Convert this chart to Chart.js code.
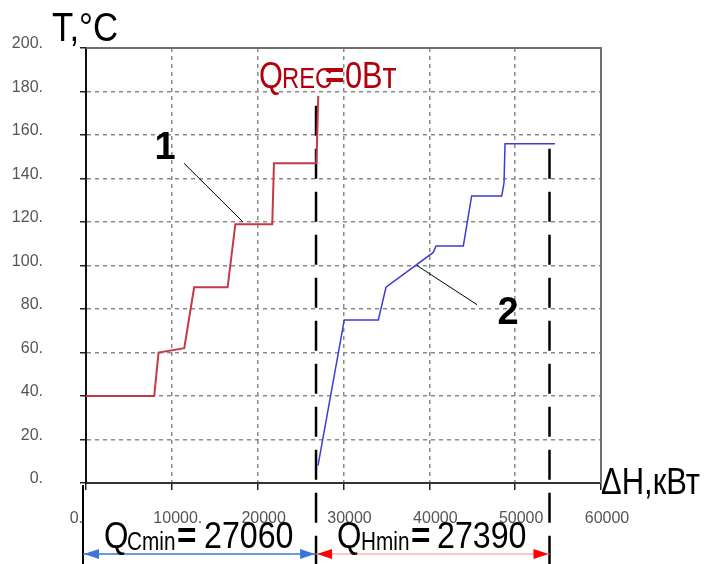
<!DOCTYPE html>
<html>

<head>
    <title>Composite curves</title>
    <style>
        body {
            margin: 0px;
            background-color: #ffffff;
        }
    </style>
    <!-- Chart.js from CDN -->
    <script src="https://cdn.jsdelivr.net/npm/chart.js"></script>
</head>

<body>
    <canvas id="myChart" width="706" height="564"></canvas>
<script>
// cold composite curve (1), red
const curve1X = [0, 7950, 8450, 11450, 12600, 16500, 17400, 21700, 21900, 26850, 27060];
const curve1Y = [40, 40, 60, 62, 90, 90, 119, 119, 147, 147, 178];

// hot composite curve (2), blue
const curve2X = [27030, 30090, 34060, 34950, 40460, 40780, 43960, 44930, 48430, 48700, 48820, 54640];
const curve2Y = [8, 75, 75, 90, 106, 109, 109, 132, 132, 138, 156, 156];

// vertical dashed boundaries
const boundX = [26800, 54000];
const boundTopY = [178, 156];
const boundBottomY = -38;

// leader lines to curve numbers
const leader1X = [11420, 18290];
const leader1Y = [147, 120];
const leader2X = [38560, 45550];
const leader2Y = [100, 82];

const curveLabels = ['1', '2'];
const curveLabelX = [9200, 49170];
const curveLabelY = [154, 78];

// axis ticks ("0." is padded so it sits left of the origin like the original)
const xTickLabels = ['0.\u00a0\u00a0\u00a0\u00a0\u00a0\u00a0\u00a0', '10000.', '20000', '30000', '40000', '50000', '60000'];
const yTickLabels = ['0.', '20.', '40.', '60.', '80.', '100.', '120.', '140.', '160.', '180.', '200.'];

const tickFont = { family: "'Liberation Sans Narrow', 'Liberation Sans', Arial, sans-serif", size: 16 };

function pts(xs, ys) {
    return xs.map((x, i) => ({ x: x, y: ys[i] }));
}

// text in a squeezed sans font
function squeezed(ctx, str, x, y, size, color, weight, sx) {
    ctx.save();
    ctx.font = (weight || 'normal') + ' ' + size + 'px "Liberation Sans", Arial, sans-serif';
    ctx.fillStyle = color;
    ctx.textBaseline = 'alphabetic';
    ctx.textAlign = 'left';
    ctx.translate(x, y);
    ctx.scale(sx || 0.83, 1);
    ctx.fillText(str, 0, 0);
    ctx.restore();
}

function arrowHead(ctx, tipX, y, dir, color) {
    ctx.fillStyle = color;
    ctx.beginPath();
    ctx.moveTo(tipX, y);
    ctx.lineTo(tipX - dir * 15, y - 5);
    ctx.lineTo(tipX - dir * 15, y + 5);
    ctx.closePath();
    ctx.fill();
}

const overlay = {
    id: 'overlay',
    afterDraw(chart) {
        const ctx = chart.ctx;
        const a = chart.chartArea;
        const xs = chart.scales.x;
        const ys = chart.scales.y;
        ctx.save();

        // top and right frame
        ctx.strokeStyle = '#6e6e6e';
        ctx.lineWidth = 2;
        ctx.beginPath();
        ctx.moveTo(a.left, a.top);
        ctx.lineTo(a.right, a.top);
        ctx.lineTo(a.right, a.bottom);
        ctx.stroke();

        // curve numbers
        ctx.fillStyle = '#000';
        ctx.textAlign = 'center';
        ctx.textBaseline = 'middle';
        ctx.font = 'bold 38px "Liberation Sans", Arial, sans-serif';
        curveLabels.forEach((t, i) => {
            ctx.fillText(t, xs.getPixelForValue(curveLabelX[i]), ys.getPixelForValue(curveLabelY[i]));
        });

        // axis titles
        squeezed(ctx, 'T,°C', 52, 41, 40, '#000', 'normal', 0.87);
        squeezed(ctx, 'ΔH,кВт', 601, 494, 36, '#000', 'normal', 0.86);

        // Q_REC = 0 Bт
        const red = '#b3000c';
        squeezed(ctx, 'Q', 259, 88, 37, red, 'normal', 0.83);
        squeezed(ctx, 'REC', 282, 88, 29, red, 'normal', 0.82);
        squeezed(ctx, '=', 325, 88, 37, red, 'bold', 0.9);
        squeezed(ctx, '0Bт', 345, 88, 37, red, 'normal', 0.83);

        // dimension line extension at the origin
        const x0 = a.left - 3;
        ctx.strokeStyle = '#000';
        ctx.lineWidth = 2;
        ctx.beginPath();
        ctx.moveTo(x0, a.bottom + 2);
        ctx.lineTo(x0, chart.height);
        ctx.stroke();

        // dimension arrows
        const ay = 554;
        const xb1 = xs.getPixelForValue(boundX[0]);
        const xb2 = xs.getPixelForValue(boundX[1]);
        ctx.strokeStyle = '#3a78d6';
        ctx.lineWidth = 1.5;
        ctx.beginPath();
        ctx.moveTo(x0, ay);
        ctx.lineTo(xb1, ay);
        ctx.stroke();
        arrowHead(ctx, x0 + 1, ay, -1, '#3a78d6');
        arrowHead(ctx, xb1 - 1, ay, 1, '#3a78d6');
        ctx.strokeStyle = '#ff8a8a';
        ctx.lineWidth = 1;
        ctx.beginPath();
        ctx.moveTo(xb1, ay);
        ctx.lineTo(xb2, ay);
        ctx.stroke();
        arrowHead(ctx, xb1 + 1, ay, -1, '#ff0000');
        arrowHead(ctx, xb2 - 1, ay, 1, '#ff0000');

        // QCmin and QHmin
        squeezed(ctx, 'Q', 104, 548, 37, '#000', 'normal', 0.85);
        squeezed(ctx, 'Cmin', 127, 550, 25, '#000', 'normal', 0.83);
        squeezed(ctx, '=', 177, 548, 37, '#000', 'bold', 0.9);
        squeezed(ctx, '27060', 204, 548, 37, '#000', 'normal', 0.87);

        squeezed(ctx, 'Q', 337, 548, 37, '#000', 'normal', 0.85);
        squeezed(ctx, 'Hmin', 361, 550, 25, '#000', 'normal', 0.83);
        squeezed(ctx, '=', 411, 548, 37, '#000', 'bold', 0.9);
        squeezed(ctx, '27390', 437, 548, 37, '#000', 'normal', 0.87);

        ctx.restore();
    }
};

const lineDefaults = { showLine: true, pointRadius: 0, tension: 0, fill: false };

const myChart = new Chart(document.getElementById('myChart').getContext('2d'), {
    type: 'scatter',
    data: {
        datasets: [
            Object.assign({ label: '1', data: pts(curve1X, curve1Y), borderColor: '#c23b45', borderWidth: 2 }, lineDefaults),
            Object.assign({ label: '2', data: pts(curve2X, curve2Y), borderColor: '#3d3dd6', borderWidth: 1.5 }, lineDefaults),
            Object.assign({ label: 'b1', data: [{ x: boundX[0], y: boundBottomY }, { x: boundX[0], y: boundTopY[0] }], borderColor: '#000', borderWidth: 2.5, borderDash: [30, 13], clip: false }, lineDefaults),
            Object.assign({ label: 'b2', data: [{ x: boundX[1], y: boundBottomY }, { x: boundX[1], y: boundTopY[1] }], borderColor: '#000', borderWidth: 2.5, borderDash: [30, 13], clip: false }, lineDefaults),
            Object.assign({ label: 'l1', data: pts(leader1X, leader1Y), borderColor: '#000', borderWidth: 1 }, lineDefaults),
            Object.assign({ label: 'l2', data: pts(leader2X, leader2Y), borderColor: '#000', borderWidth: 1 }, lineDefaults)
        ]
    },
    options: {
        responsive: false,
        animation: false,
        devicePixelRatio: 1,
        layout: { padding: { top: 48, right: 105, left: 0, bottom: 0 } },
        plugins: {
            legend: { display: false },
            tooltip: { enabled: false }
        },
        scales: {
            x: {
                type: 'linear',
                min: 0,
                max: 60000,
                afterFit(scale) { scale.height = 81; },
                ticks: {
                    stepSize: 10000,
                    color: '#555',
                    font: tickFont,
                    padding: 19,
                    labelOffset: 6,
                    maxRotation: 0,
                    callback: (v) => xTickLabels[Math.round(v / 10000)]
                },
                grid: {
                    color: '#8a8a8a',
                    lineWidth: 1.5,
                    tickLength: 7,
                    tickColor: '#222',
                    tickWidth: 1.5
                },
                border: { color: '#333', width: 2, dash: [4, 4] }
            },
            y: {
                type: 'linear',
                min: 0,
                max: 200,
                afterFit(scale) { scale.width = 86; },
                ticks: {
                    stepSize: 20,
                    color: '#555',
                    font: tickFont,
                    padding: 37,
                    labelOffset: -4,
                    callback: (v) => yTickLabels[Math.round(v / 20)]
                },
                grid: {
                    color: '#8a8a8a',
                    lineWidth: 1.5,
                    tickLength: 6,
                    tickColor: '#222',
                    tickWidth: 1.5
                },
                border: { color: '#111', width: 2, dash: [4, 4] }
            }
        }
    },
    plugins: [overlay]
});
</script>
</body>
</html>
